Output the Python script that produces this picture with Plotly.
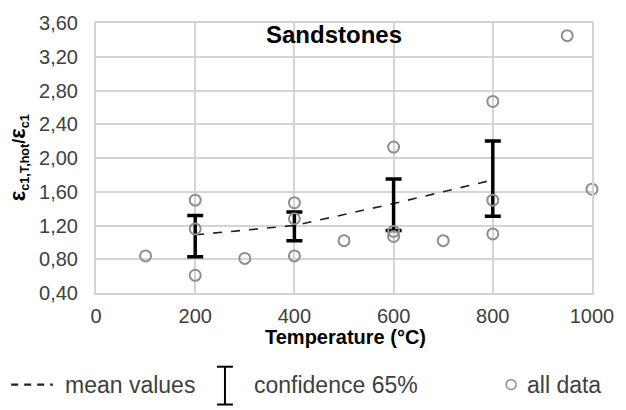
import plotly.graph_objects as go

# ---- data ----
all_x = [100, 200, 200, 200, 300, 400, 400, 400, 500, 600, 600, 600, 700, 800, 800, 800, 950, 1000]
all_y = [0.84, 1.50, 1.16, 0.61, 0.81, 1.47, 1.28, 0.84, 1.02, 2.13, 1.13, 1.07, 1.02, 2.67, 1.50, 1.10, 3.45, 1.63]

mean_x = [200, 400, 600, 800]
mean_y = [1.09, 1.20, 1.46, 1.74]
conf_lower = [0.83, 1.02, 1.14, 1.31]
conf_upper = [1.32, 1.36, 1.75, 2.20]

x_ticks = [0, 200, 400, 600, 800, 1000]
y_ticks = [0.4, 0.8, 1.2, 1.6, 2.0, 2.4, 2.8, 3.2, 3.6]
y_tick_labels = ["0,40", "0,80", "1,20", "1,60", "2,00", "2,40", "2,80", "3,20", "3,60"]

FONT = "Liberation Sans, Arial, sans-serif"
GRID = "#d4d4d4"
TICKC = "#404040"

fig = go.Figure()

# mean values dashed line
fig.add_trace(go.Scatter(x=mean_x, y=mean_y, mode="lines",
                         line=dict(color="#222222", width=1.6, dash="dash"),
                         showlegend=False, hoverinfo="skip"))

# confidence bars
err_plus = [u - m for u, m in zip(conf_upper, mean_y)]
err_minus = [m - l for l, m in zip(conf_lower, mean_y)]
fig.add_trace(go.Scatter(x=mean_x, y=mean_y, mode="markers",
                         marker=dict(size=1, opacity=0),
                         error_y=dict(type="data", array=err_plus, arrayminus=err_minus,
                                      color="black", thickness=3.5, width=8),
                         showlegend=False))

# all data
fig.add_trace(go.Scatter(x=all_x, y=all_y, mode="markers",
                         marker=dict(symbol="circle-open", size=11, color="#8f8f8f",
                                     line=dict(width=2, color="#8f8f8f")),
                         showlegend=False, cliponaxis=False))

fig.update_xaxes(range=[0, 1000], tickvals=x_ticks, ticktext=[str(v) for v in x_ticks],
                 showgrid=True, gridcolor=GRID, gridwidth=2,
                 showline=True, linecolor=GRID, linewidth=2, mirror=True,
                 zeroline=False, ticks="", ticklabelstandoff=4,
                 tickfont=dict(family=FONT, size=20, color=TICKC))
fig.update_yaxes(range=[0.4, 3.6], tickvals=y_ticks, ticktext=y_tick_labels,
                 showgrid=True, gridcolor=GRID, gridwidth=2,
                 showline=True, linecolor=GRID, linewidth=2, mirror=True,
                 zeroline=False, ticks="", ticklabelstandoff=12,
                 tickfont=dict(family=FONT, size=20, color=TICKC))

def ann(text, x, y, size, color, xanchor="center", angle=0):
    return dict(text=text, x=x, y=y, xref="paper", yref="paper", xanchor=xanchor,
                yanchor="middle", textangle=angle, showarrow=False,
                font=dict(family=FONT, size=size, color=color))

ytitle = ("<b><span style='font-size:22px'>ε</span><sub>c1,T,hot</sub>/"
          "<span style='font-size:22px'>ε</span><sub>c1</sub></b>")

annotations = [
    ann("<b>Sandstones</b>", 0.48, 0.959, 24, "black"),
    ann("<b>Temperature (°C)</b>", 0.504, -0.162, 20, "black"),
    ann(ytitle, -0.157, 0.50, 18, "black", angle=-90),
    ann("mean values", -0.067, -0.339, 23, TICKC, xanchor="left"),
    ann("confidence 65%", 0.315, -0.339, 23, TICKC, xanchor="left"),
    ann("all data", 0.865, -0.339, 23, TICKC, xanchor="left"),
]

shapes = [
    dict(type="line", xref="paper", yref="paper", x0=-0.171, x1=-0.087, y0=-0.339, y1=-0.339,
         line=dict(color="#222222", width=2.2, dash="7px,6px")),
    dict(type="line", xref="paper", yref="paper", x0=0.26, x1=0.26, y0=-0.273, y1=-0.413,
         line=dict(color="black", width=2)),
    dict(type="line", xref="paper", yref="paper", x0=0.244, x1=0.276, y0=-0.273, y1=-0.273,
         line=dict(color="black", width=2)),
    dict(type="line", xref="paper", yref="paper", x0=0.244, x1=0.276, y0=-0.413, y1=-0.413,
         line=dict(color="black", width=2)),
    dict(type="circle", xref="paper", yref="paper", x0=0.827, x1=0.847, y0=-0.357, y1=-0.321,
         line=dict(color="#8f8f8f", width=1.5)),
]

fig.update_layout(width=626, height=410, margin=dict(l=96, r=26, t=22, b=117),
                  plot_bgcolor="white", paper_bgcolor="white",
                  annotations=annotations, shapes=shapes, showlegend=False)

fig.write_html("out.html")
